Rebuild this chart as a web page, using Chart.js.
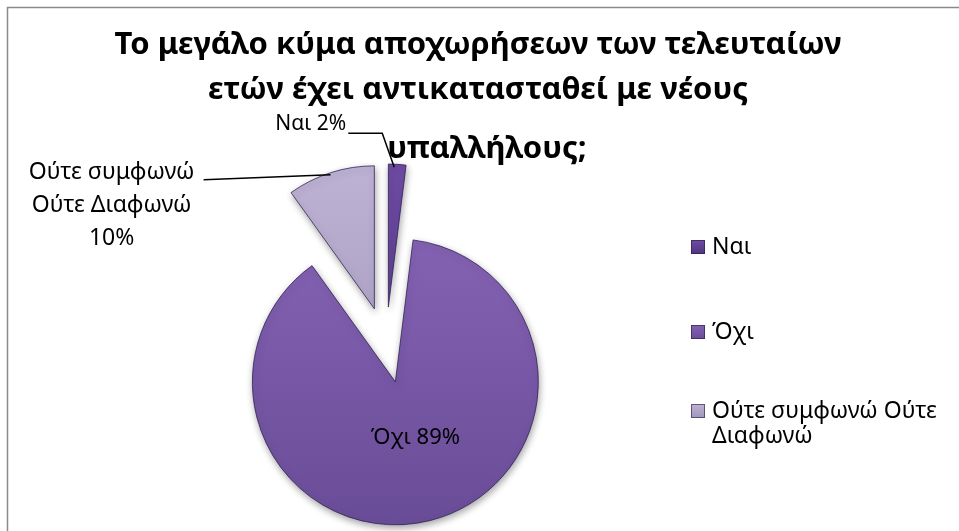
<!DOCTYPE html>
<html>
<head>
<meta charset="utf-8">
<script src="https://cdn.jsdelivr.net/npm/chart.js@4/dist/chart.umd.min.js"></script>
<style>
  html, body { margin: 0; padding: 0; background: #ffffff; }
  #wrap { width: 959px; height: 531px; }
</style>
</head>
<body>
<div id="wrap"><canvas id="chart" width="959" height="531"></canvas></div>
<script>
// Survey answers (percent of respondents)
const categories = ['Ναι', 'Όχι', 'Ούτε συμφωνώ Ούτε Διαφωνώ'];
const percentValues = [2, 89, 10];
const titleLines = [
  'Το μεγάλο κύμα αποχωρήσεων των τελευταίων',
  'ετών έχει αντικατασταθεί με νέους',
  'υπαλλήλους;'
];

// slice fills: [top, bottom] of a soft vertical gradient
const sliceColors = [
  ['#6d4ba3', '#523581'],
  ['#8462b3', '#694c97'],
  ['#bdb2d4', '#a096b9']
];

const FONT = '"Noto Sans", "Open Sans", sans-serif';
const EXPLODE = 38;   // distance every slice is pulled out from the centre
const PIE_RADIUS = 143;

function fillFor(ctx, i, y0, y1) {
  const g = ctx.createLinearGradient(0, y0, 0, y1);
  g.addColorStop(0, sliceColors[i][0]);
  g.addColorStop(1, sliceColors[i][1]);
  return g;
}

// outer frame of the chart
const framePlugin = {
  id: 'frame',
  beforeDraw(chart) {
    const ctx = chart.ctx;
    ctx.save();
    ctx.fillStyle = '#ffffff';
    ctx.fillRect(0, 0, chart.width, chart.height);
    ctx.strokeStyle = '#8a8a8a';
    ctx.lineWidth = 1.5;
    ctx.strokeRect(7.5, 7.5, chart.width + 20, chart.height + 20);
    ctx.restore();
  }
};

// draws every slice pulled out along its own bisector, with a soft shadow
const explodePlugin = {
  id: 'explode',
  beforeDatasetDraw(chart, args) {
    const ctx = chart.ctx;
    args.meta.data.forEach((arc) => {
      const mid = (arc.startAngle + arc.endAngle) / 2;
      ctx.save();
      ctx.translate(Math.cos(mid) * EXPLODE, Math.sin(mid) * EXPLODE);
      ctx.shadowColor = 'rgba(0,0,0,0.35)';
      ctx.shadowBlur = 7;
      ctx.shadowOffsetX = 1;
      ctx.shadowOffsetY = 3;
      arc.draw(ctx);
      ctx.restore();
    });
    return false;
  }
};

// title, data labels with leader lines, legend
const textPlugin = {
  id: 'texts',
  afterDraw(chart) {
    const ctx = chart.ctx;
    const arcs = chart.getDatasetMeta(0).data;
    ctx.save();
    ctx.fillStyle = '#000000';
    ctx.textBaseline = 'middle';

    // title
    ctx.font = 'bold 31px ' + FONT;
    ctx.textAlign = 'center';
    const titleX = [478, 478, 487];
    const titleY = [45, 90, 149];
    titleLines.forEach((t, k) => ctx.fillText(t, titleX[k], titleY[k]));

    // data labels
    const pos = (arc, r) => {
      const mid = (arc.startAngle + arc.endAngle) / 2;
      return {
        x: arc.x + Math.cos(mid) * (EXPLODE + r),
        y: arc.y + Math.sin(mid) * (EXPLODE + r)
      };
    };
    ctx.strokeStyle = '#000000';
    ctx.lineWidth = 1.5;

    // Ναι: outside, leader bends left
    {
      const a = pos(arcs[0], arcs[0].outerRadius);
      const bend = { x: a.x - 15, y: a.y - 31 };
      const end = { x: bend.x - 34, y: bend.y };
      ctx.beginPath();
      ctx.moveTo(a.x - 3, a.y + 3);
      ctx.lineTo(bend.x, bend.y);
      ctx.lineTo(end.x, end.y);
      ctx.stroke();
      ctx.font = '21px ' + FONT;
      ctx.textAlign = 'right';
      ctx.fillText(categories[0] + ' ' + percentValues[0] + '%', end.x - 2, end.y - 9);
    }
    // Ούτε…: outside, leader runs left
    {
      const a = pos(arcs[2], arcs[2].outerRadius);
      const end = { x: a.x - 127, y: a.y + 7 };
      ctx.beginPath();
      ctx.moveTo(a.x, a.y + 2);
      ctx.lineTo(end.x, end.y);
      ctx.stroke();
      ctx.font = '23px ' + FONT;
      ctx.textAlign = 'center';
      const lines = ['Ούτε συμφωνώ', 'Ούτε Διαφωνώ', percentValues[2] + '%'];
      lines.forEach((t, k) => ctx.fillText(t, end.x - 92, end.y - 7 + k * 33));
    }
    // Όχι: inside the slice
    {
      const p = pos(arcs[1], arcs[1].outerRadius * 0.4);
      ctx.font = '22px ' + FONT;
      ctx.textAlign = 'center';
      ctx.fillText(categories[1] + ' ' + percentValues[1] + '%', p.x + 6, p.y);
    }

    // legend
    ctx.font = '23px ' + FONT;
    ctx.textAlign = 'left';
    const legendX = 691;
    const legendY = [247, 332, 411];
    const maxW = 245;
    categories.forEach((name, i) => {
      const y = legendY[i];
      ctx.fillStyle = fillFor(ctx, i, y - 7, y + 7);
      ctx.fillRect(legendX, y - 7, 14, 14);
      ctx.strokeStyle = 'rgba(40,25,70,0.6)';
      ctx.lineWidth = 1;
      ctx.strokeRect(legendX + 0.5, y - 6.5, 13, 13);
      ctx.fillStyle = '#000000';
      // word wrap
      const words = name.split(' ');
      const rows = [];
      let cur = '';
      words.forEach(w => {
        const test = cur ? cur + ' ' + w : w;
        if (ctx.measureText(test).width > maxW && cur) { rows.push(cur); cur = w; }
        else cur = test;
      });
      rows.push(cur);
      rows.forEach((r, k) => ctx.fillText(r, legendX + 21, y + k * 25));
    });
    ctx.restore();
  }
};

new Chart(document.getElementById('chart'), {
  type: 'pie',
  data: {
    labels: categories,
    datasets: [{
      data: percentValues,
      backgroundColor: (c) => {
        const a = c.chart.chartArea;
        if (!a) return sliceColors[c.dataIndex][0];
        const cy = (a.top + a.bottom) / 2;
        return fillFor(c.chart.ctx, c.dataIndex, cy - PIE_RADIUS, cy + PIE_RADIUS);
      },
      borderColor: 'rgba(45,28,80,0.75)',
      borderWidth: 1
    }]
  },
  options: {
    responsive: false,
    animation: false,
    radius: PIE_RADIUS,
    layout: { padding: { left: 10, right: 197, top: 165, bottom: 6 } },
    plugins: {
      legend: { display: false },
      title: { display: false },
      tooltip: { enabled: false }
    }
  },
  plugins: [framePlugin, explodePlugin, textPlugin]
});
</script>
</body>
</html>
